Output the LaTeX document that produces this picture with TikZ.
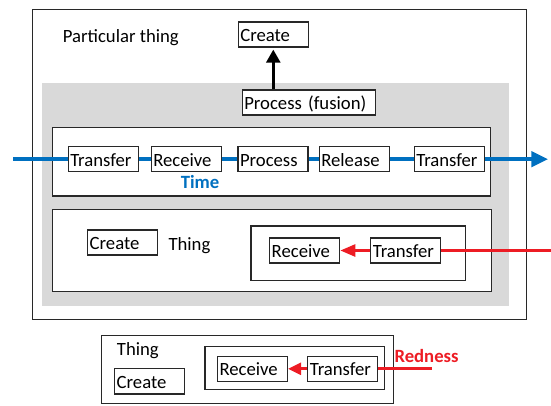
\documentclass[tikz,border=0pt]{standalone}
\usepackage{fontspec}
\setmainfont{Carlito}
\usetikzlibrary{arrows.meta,fit}
\definecolor{tblue}{RGB}{0,112,192}
\definecolor{tred}{RGB}{237,28,36}
\definecolor{tgray}{RGB}{217,217,217}
\definecolor{tline}{RGB}{40,40,40}
\begin{document}
\begin{tikzpicture}[x=1pt,y=-1pt,
  every node/.style={font=\fontsize{18.7}{22}\selectfont, text=black},
  frame/.style={draw=tline, line width=1.4pt, inner sep=0pt},
  lbl/.style={inner sep=0pt, text height=15pt, text depth=1pt},
  bx/.style={draw=tline, fill=white, line width=1.3pt, minimum height=25pt,
    inner xsep=2pt, inner ysep=0pt, text width=#1, align=left,
    text height=15pt, text depth=1pt},
  bx/.default=66pt,
  blueline/.style={draw=tblue, line width=4.5pt},
  redline/.style={draw=tred, line width=2.7pt},
  blkarrow/.style={draw=black, line width=2.6pt, -{Triangle[length=13pt,width=14pt]}}
]
\useasboundingbox (0,0) rectangle (551,405);
% containers
\node[frame, fit={(32.7,9.3) (526.7,319.3)}] (outer) {};
\node[fill=tgray, inner sep=0pt, fit={(41.7,82.7) (509.3,306)}] (grayarea) {};
\node[frame, fill=white, fit={(52.3,127.5) (490.5,196)}] (timebox) {};
\node[frame, fill=white, fit={(52.3,209.3) (491.7,291.7)}] (thingbox) {};
\node[frame, fit={(251,226) (465.7,280.5)}] (inbox) {};
\node[frame, fit={(101.7,335.7) (393.3,403.5)}] (botbox) {};
\node[frame, fit={(205,346.7) (384.3,389.3)}] (botin) {};
% labels
\node[lbl, anchor=west] (pt) at (62.7,35) {Particular thing};
\node[lbl, anchor=west] (thingM) at (168.3,243) {Thing};
\node[lbl, anchor=west] (thingB) at (116.7,348) {Thing};
\node[lbl, text=tblue, font=\fontsize{18.7}{22}\selectfont\bfseries] (time) at (200,181.3) {Time};
\node[lbl, anchor=west, text=tred, font=\fontsize{18.7}{22}\selectfont\bfseries] (redness) at (394.3,355.7) {Redness};
% boxes
\node[bx] (crT) at (273.3,34.5) {Create};
\node[bx=129.4pt] (pf) at (309,102.5) {Process (fusion)};
\node[bx] (t1) at (103.3,159.2) {Transfer};
\node[bx] (r1) at (186.3,159.2) {Receive};
\node[bx] (p1) at (273,159.2) {Process};
\node[bx] (l1) at (354.3,159.2) {Release};
\node[bx] (t2) at (449.3,159.2) {Transfer};
\node[bx] (crM) at (122.7,242.5) {Create};
\node[bx] (rcM) at (304.7,250.5) {Receive};
\node[bx] (trM) at (405.8,250.5) {Transfer};
\node[bx, minimum height=25.7pt] (crB) at (149.7,381.2) {Create};
\node[bx] (rcB) at (252.5,368.8) {Receive};
\node[bx] (trB) at (342.8,368.8) {Transfer};
% connectors
\coordinate (bs) at (13,159.2);
\coordinate (be) at (548.3,159.2);
\draw[blueline] (bs) -- (t1);
\draw[blueline] (t1) -- (r1);
\draw[blueline] (r1) -- (p1);
\draw[blueline] (p1) -- (l1);
\draw[blueline] (l1) -- (t2);
\draw[blueline, -{Triangle[length=17pt,width=15pt]}] (t2) -- (be);
\draw[blkarrow, shorten >=2pt] (pf.north -| crT) -- (crT);
\coordinate (rs) at (551,250.5);
\draw[redline] (rs) -- (trM);
\draw[redline, -{Triangle[length=15pt,width=12pt]}] (trM) -- (rcM);
\coordinate (rsB) at (431.7,368.8);
\draw[redline] (rsB) -- (trB);
\draw[redline, -{Triangle[length=13pt,width=12pt]}] (trB) -- (rcB);
\end{tikzpicture}
\end{document}
